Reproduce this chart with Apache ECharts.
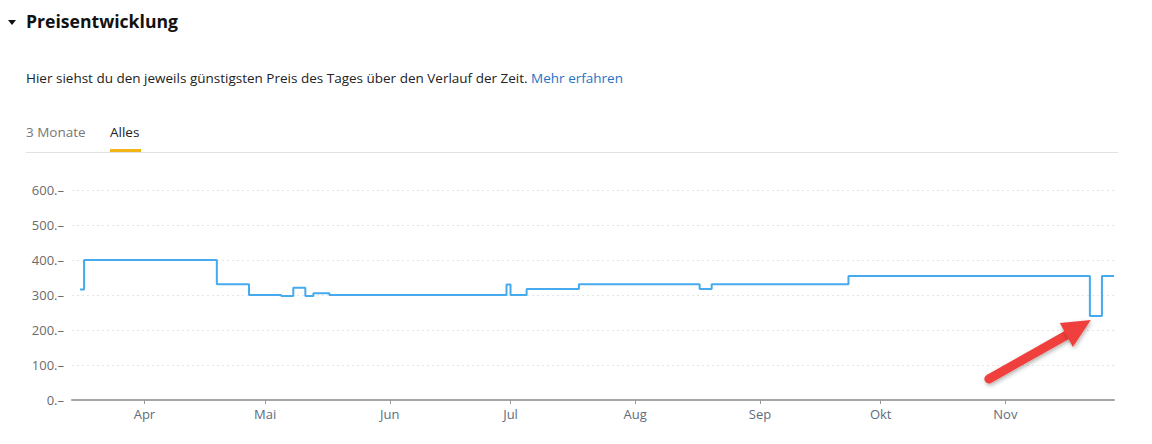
<!DOCTYPE html>
<html>
<head>
<meta charset="utf-8">
<script src="https://cdn.jsdelivr.net/npm/echarts@6/dist/echarts.min.js"></script>
<style>
  html, body { margin:0; padding:0; background:#fff; width:1152px; height:444px; overflow:hidden; font-family:"Open Sans","Noto Sans",sans-serif; }
  #chart { position:absolute; left:0; top:0; width:1152px; height:444px; }
  .abs { position:absolute; white-space:nowrap; }
  #tri { left:8px; top:20px; width:0; height:0; border-left:4.5px solid transparent; border-right:4.5px solid transparent; border-top:5px solid #111; }
  #title { left:26px; top:9px; font-size:17.6px; font-weight:700; color:#111; }
  #sub { left:26px; top:69px; font-size:13.5px; color:#222; }
  #sub a { color:#1f73c6; text-decoration:none; }
  #tab1 { left:26px; top:123px; font-size:13.5px; color:#777; }
  #tab2 { left:110px; top:123px; font-size:13.5px; color:#222; }
  #uline { left:110px; top:149px; width:31px; height:3px; background:#f2b416; }
  #hline { left:26px; top:152px; width:1092px; height:1px; background:#e2e2e2; }
</style>
</head>
<body>
<div id="chart"></div>
<div class="abs" id="tri"></div>
<div class="abs" id="title">Preisentwicklung</div>
<div class="abs" id="sub">Hier siehst du den jeweils günstigsten Preis des Tages über den Verlauf der Zeit. <a>Mehr erfahren</a></div>
<div class="abs" id="tab1">3 Monate</div>
<div class="abs" id="tab2">Alles</div>
<div class="abs" id="hline"></div>
<div class="abs" id="uline"></div>
<script>
// Price change dates (each value holds from its date until the next date)
const priceDates = ['2023-03-16','2023-03-17','2023-04-19','2023-04-27','2023-05-05','2023-05-08','2023-05-11','2023-05-13','2023-05-17','2023-06-30','2023-07-01','2023-07-05','2023-07-18','2023-08-17','2023-08-20','2023-09-23','2023-11-22','2023-11-25','2023-11-28'];
const priceValues = [316, 400, 331, 300, 297, 321, 297, 305, 300, 330, 300, 317, 331, 317, 331, 354, 240, 354, 354];
const monthTicks = ['2023-04-01','2023-05-01','2023-06-01','2023-07-01','2023-08-01','2023-09-01','2023-10-01','2023-11-01'];
const monthLabels = ['Apr','Mai','Jun','Jul','Aug','Sep','Okt','Nov'];
const yTicks = [0,100,200,300,400,500,600];
const axisStart = '2023-03-14';
const axisEnd = '2023-11-28';
const dipIndex = 16;

const toT = d => Date.UTC(+d.slice(0,4), +d.slice(5,7) - 1, +d.slice(8,10));
const tickTimes = monthTicks.map(toT);
const seriesData = priceDates.map((d, i) => [toT(d), priceValues[i]]);

const chart = echarts.init(document.getElementById('chart'), null, {renderer:'svg'});
chart.setOption({
  animation:false,
  grid:{ left:72, right:38, top:190, bottom:44 },
  xAxis:{
    type:'value',
    min:toT(axisStart),
    max:toT(axisEnd),
    axisLine:{ show:true, lineStyle:{ color:'#a6a6a6', width:2 } },
    axisTick:{ show:true, customValues:tickTimes, length:4, lineStyle:{ color:'#9a9a9a', width:1 } },
    axisLabel:{
      customValues:tickTimes,
      margin:7,
      color:'#5e6d7c',
      fontSize:13,
      fontFamily:'Open Sans',
      formatter:function(v){
        const idx = tickTimes.indexOf(v);
        return idx >= 0 ? monthLabels[idx] : '';
      }
    },
    splitLine:{ show:false }
  },
  yAxis:{
    type:'value',
    min:yTicks[0], max:yTicks[yTicks.length-1], interval:100,
    axisLine:{ show:false },
    axisTick:{ show:false },
    axisLabel:{ margin:8, color:'#6b6b6b', fontSize:13, fontFamily:'Open Sans', formatter:'{value}.–' },
    splitLine:{ show:true, lineStyle:{ color:'#e4e4e4', type:[2,3], width:1 } }
  },
  series:[{
    type:'line',
    step:'end',
    data:seriesData,
    showSymbol:false,
    lineStyle:{ color:'#45aaee', width:2 },
    z:3
  }]
});

// Annotation arrow pointing at the dip
const p = chart.convertToPixel({gridIndex:0}, seriesData[dipIndex]);
const tip = [p[0] + 1, p[1] + 4];
const wingA = [tip[0] - 31, tip[1] + 3];
const wingB = [tip[0] - 18, tip[1] + 27];
const tail = [tip[0] - 102, tip[1] + 59];
const base = [(wingA[0] + wingB[0]) / 2 + 4, (wingA[1] + wingB[1]) / 2 - 2];
const red = '#f0413c';
chart.setOption({
  graphic:[
    { type:'line', shape:{ x1:tail[0], y1:tail[1], x2:base[0], y2:base[1] },
      style:{ stroke:red, lineWidth:9, lineCap:'round', shadowBlur:4, shadowColor:'rgba(0,0,0,0.3)', shadowOffsetX:1, shadowOffsetY:2 }, z:10 },
    { type:'polygon', shape:{ points:[tip, wingA, wingB] },
      style:{ fill:red, shadowBlur:4, shadowColor:'rgba(0,0,0,0.3)', shadowOffsetX:1, shadowOffsetY:2 }, z:10 }
  ]
});
</script>
</body>
</html>
